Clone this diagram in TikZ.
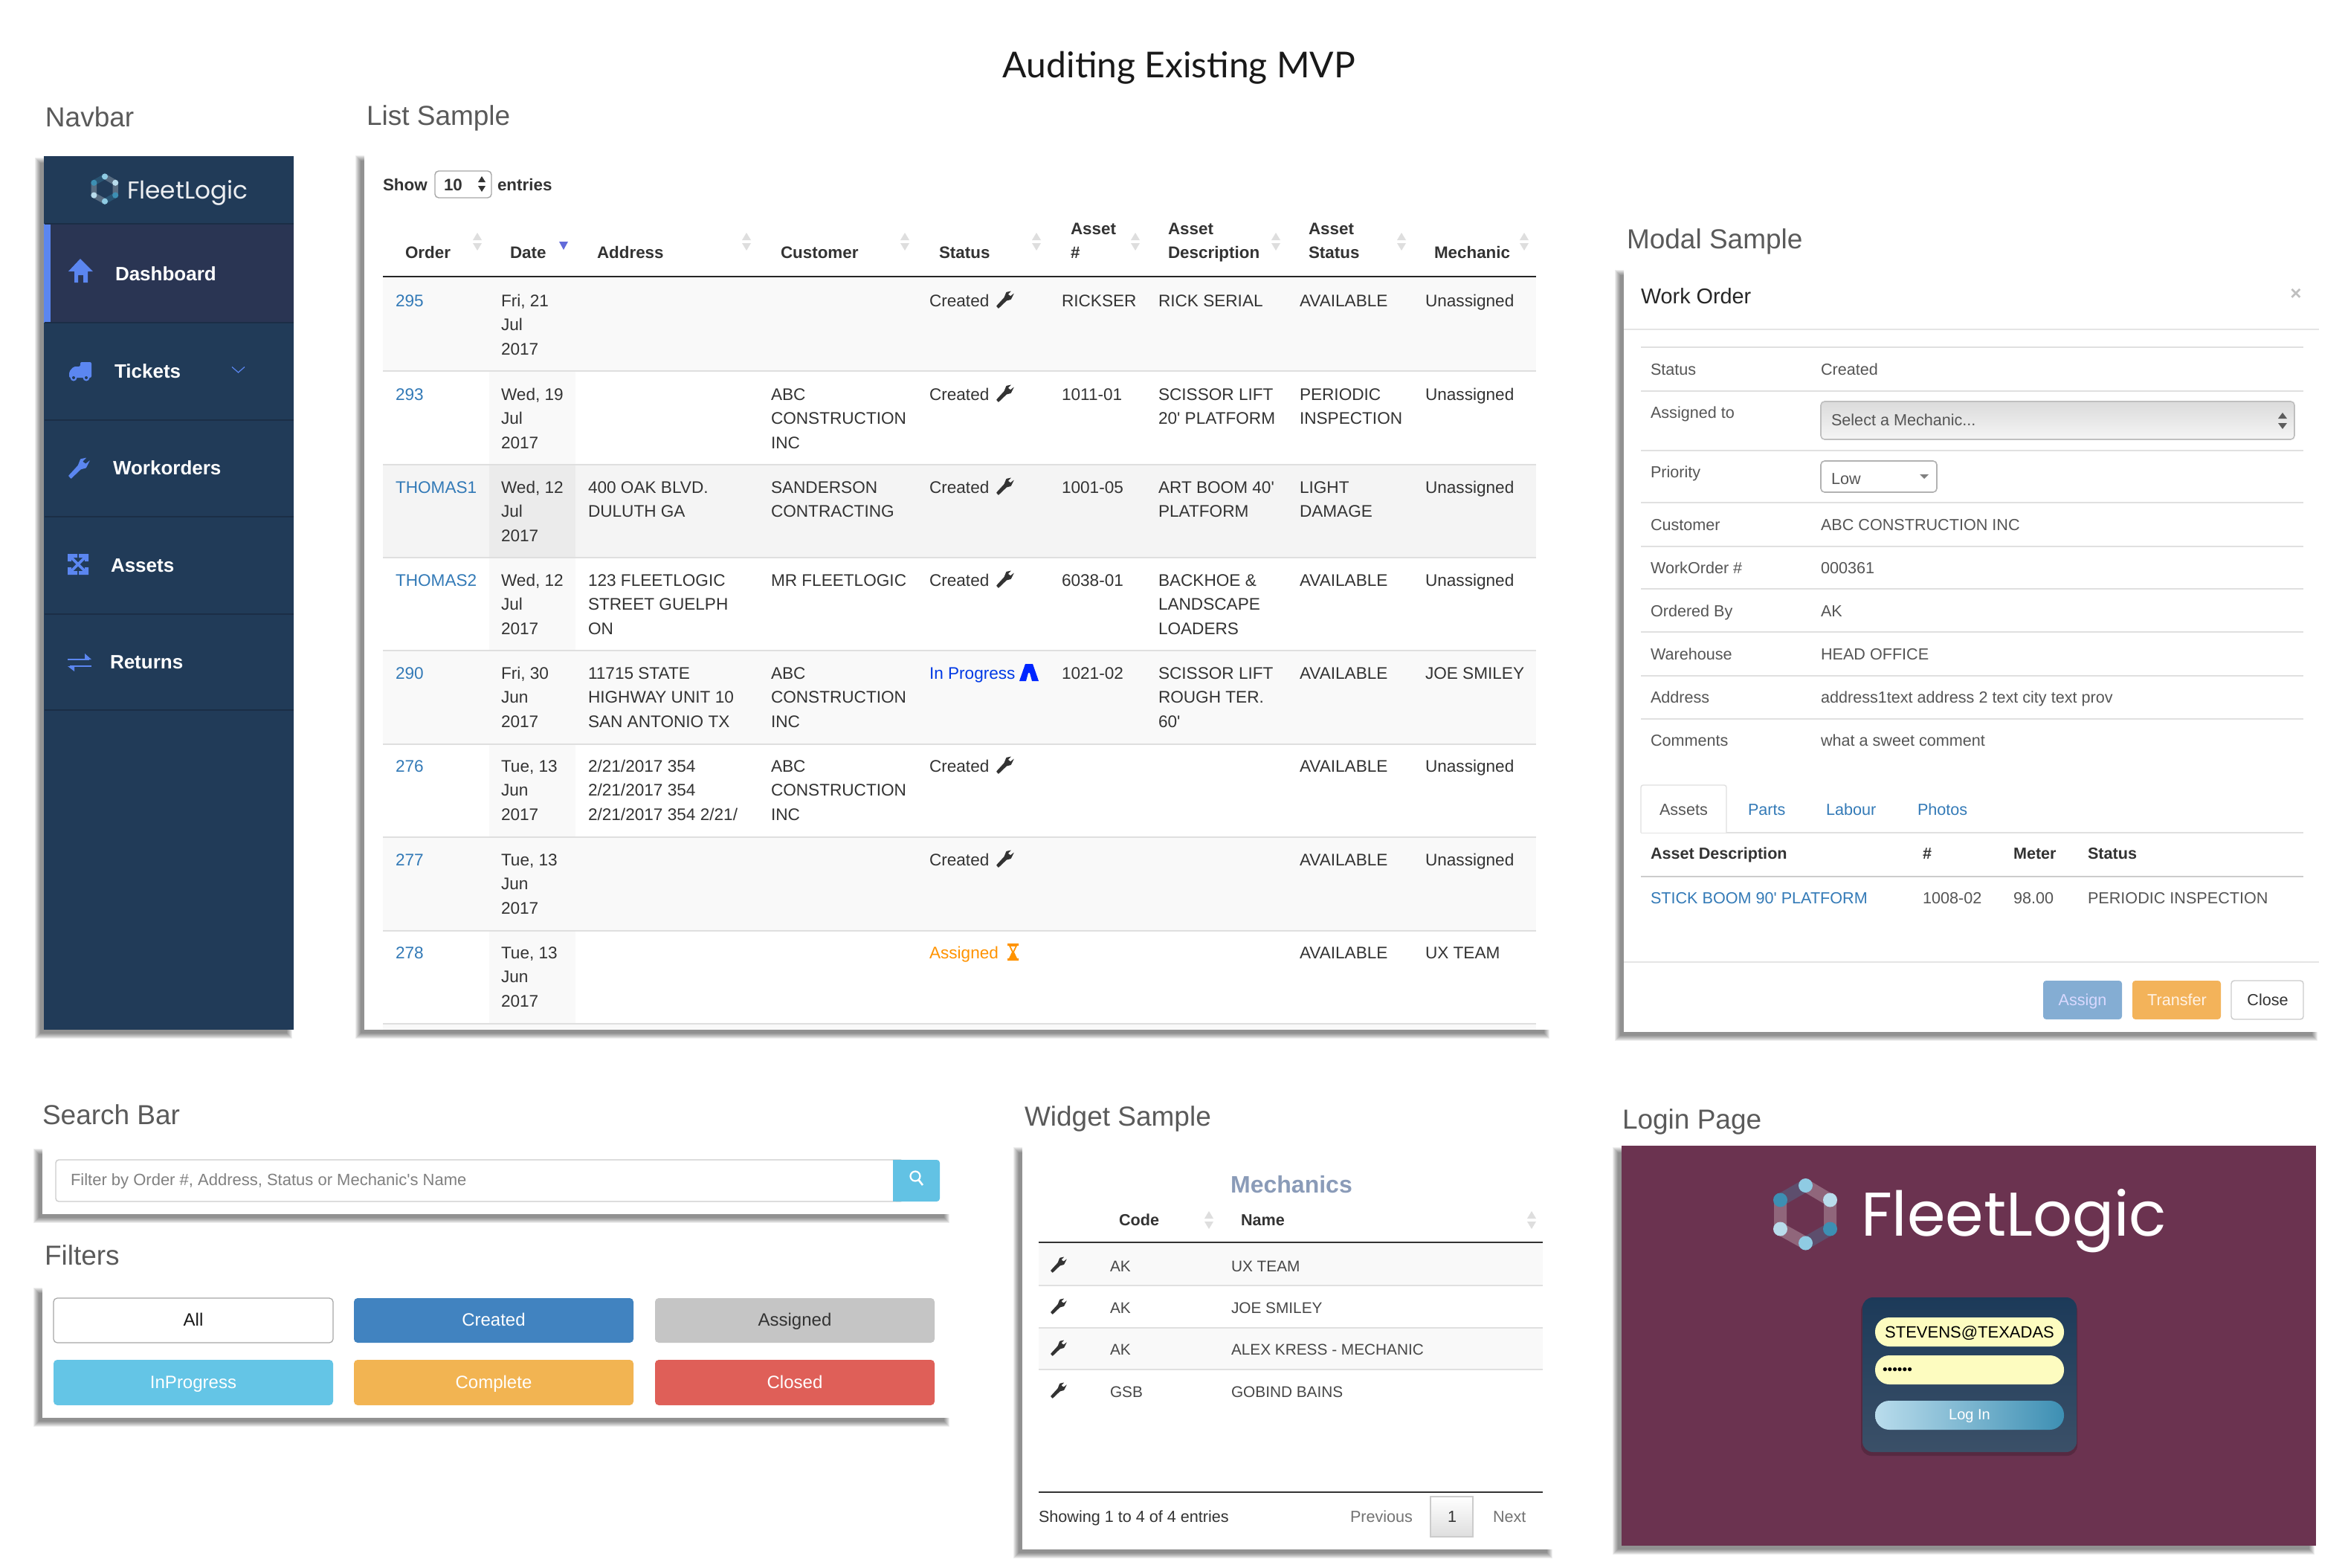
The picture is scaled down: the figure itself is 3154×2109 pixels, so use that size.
\documentclass[tikz,border=0pt]{standalone}
\usepackage{fontspec}
\setmainfont{Liberation Sans}[Ligatures=TeXOff]
\newfontfamily\titlefont{Lato}
\newfontfamily\logofont{Poppins}
\definecolor{txt}{HTML}{333333}
\definecolor{modaltxt}{HTML}{555555}
\definecolor{head}{HTML}{5A5A5A}
\definecolor{linkc}{HTML}{337AB7}
\definecolor{navbg}{HTML}{213B58}
\definecolor{navact}{HTML}{2A3553}
\definecolor{navline}{HTML}{1B2E46}
\definecolor{navicon}{HTML}{5B86F0}
\definecolor{rowline}{HTML}{DFDFDF}
\definecolor{stripe}{HTML}{F9F9F9}
\definecolor{maroon}{HTML}{6B3350}
\definecolor{hexa}{HTML}{3D8FB3}
\definecolor{hexb}{HTML}{B9DCEC}
\definecolor{hexc}{HTML}{8FCBE3}
\newcounter{nn}
\tikzset{
  txtbase/.style={inner sep=0pt,outer sep=0pt,anchor=base west,text=txt},
  centred/.style={anchor=base},
  tcell/.style={font=\fontsize{11.3}{13}\selectfont},
  thead/.style={font=\fontsize{11.2}{13}\selectfont\bfseries},
  mcell/.style={font=\fontsize{10.8}{13}\selectfont,text=modaltxt},
  mbold/.style={font=\fontsize{10.8}{13}\selectfont\bfseries,text=txt},
  wcell/.style={font=\fontsize{10.4}{13}\selectfont,text=txt!90},
  section/.style={font=\fontsize{18.5}{22}\selectfont,text=head},
  navitem/.style={font=\fontsize{13}{15}\selectfont\bfseries,text=white},
  linkcell/.style={text=linkc},
  hline/.style={draw=rowline,line width=1.25pt},
  filterbtn/.style={rounded corners=2.5pt,line width=.6pt},
  fbt/.style={centred,font=\fontsize{12}{14}\selectfont},
}
\newcommand\lb[4][]{\stepcounter{nn}\node[txtbase,#1] (n\thenn) at (#2,#3) {#4};}
\newcommand\tA[4][]{\lb[tcell,#1]{#2}{#3}{#4}}
\newcommand\tB[5][]{\lb[tcell,#1]{#2}{#3}{#4}\lb[tcell,#1]{#2}{#3+32.5}{#5}}
\newcommand\tC[6][]{\lb[tcell,#1]{#2}{#3}{#4}\lb[tcell,#1]{#2}{#3+32.5}{#5}\lb[tcell,#1]{#2}{#3+65}{#6}}
\newcommand\pshadow[4]{%
  \foreach \d in {7,6,5,4,3,2,1,0}{%
    \fill[black,opacity=.065] (#1-5-\d,#2+9-\d) rectangle (#3-9+\d,#4+5+\d);}}
\newcommand\wrench[4][txt]{%
  \begin{scope}[shift={(#2,#3)},scale=#4]
    \fill[#1,rounded corners=.3pt] (0,.86) -- (.12,1) -- (.58,.56) -- (.82,.5) -- (1,.14) -- (.8,.3) -- (.66,.2) -- (.84,.02) -- (.56,.08) -- (.44,.38) -- cycle;
  \end{scope}}
\newcommand\sortarr[3][black!13]{%
  \fill[#1] (#2-6,#3-2) -- (#2+6,#3-2) -- (#2,#3-12) -- cycle;
  \fill[#1] (#2-6,#3+2) -- (#2+6,#3+2) -- (#2,#3+12) -- cycle;}
\newcommand\hexlogo[3]{%
  \begin{scope}[shift={(#1,#2)},scale=#3]
    \draw[white,opacity=.25,line width={#3*8.5pt}] (0,-38.5) -- (33,-19) (33,-19) -- (33,20) (-34,20) -- (0,39) (-34,-19) -- (-34,20);
    \draw[hexa,opacity=.3,line width={#3*8.5pt}] (0,-38.5) -- (-34,-19) (33,20) -- (0,39);
    \fill[hexc] (0,-38.5) circle [radius=9.5] (0,39) circle [radius=9.5];
    \fill[hexb] (33,-19) circle [radius=9.5] (-34,20) circle [radius=9.5];
    \fill[hexa] (33,20) circle [radius=9.5] (-34,-19) circle [radius=9.5];
  \end{scope}}
\begin{document}
\begin{tikzpicture}[x=.5pt,y=-.5pt]
\useasboundingbox (0,0) rectangle (3154,2109);
\fill[white] (0,0) rectangle (3154,2109);

% ---- titles
\lb[centred,font=\fontsize{24}{30}\selectfont\titlefont,text=black!90]{1586}{104}{Auditing Existing MVP}
\lb[section]{61}{170}{Navbar}
\lb[section]{493}{168}{List Sample}
\lb[section]{2188}{334}{Modal Sample}
\lb[section]{57}{1512}{Search Bar}
\lb[section]{60}{1701}{Filters}
\lb[section]{1378}{1514}{Widget Sample}
\lb[section]{2182}{1518}{Login Page}

% ---- navbar
\pshadow{59}{210}{395}{1385}
\fill[navbg] (59,210) rectangle (395,1385);
\fill[navact] (59,301) rectangle (395,434);
\fill[navicon] (59,301) rectangle (68,434);
\foreach \yy in {301,434,565,695,826,955}{\draw[navline,line width=.6pt] (60,\yy) -- (395,\yy);}
\hexlogo{141}{254}{.43}
\lb[font=\fontsize{16.4}{20}\selectfont\logofont,text=white!92!navbg]{171}{267}{FleetLogic}
\lb[navitem]{155}{377}{Dashboard}
\lb[navitem]{154}{508}{Tickets}
\lb[navitem]{152}{638}{Workorders}
\lb[navitem]{149}{769}{Assets}
\lb[navitem]{148}{899}{Returns}
% home
\fill[navicon] (92,365) -- (108,348) -- (125,365) -- (118,365) -- (118,380) -- (112,380) -- (112,370) -- (105,370) -- (105,380) -- (100,380) -- (100,365) -- cycle;
% truck
\fill[navicon,rounded corners=1pt] (108,487) -- (123,487) -- (123,508) -- (93,508) -- (93,500) -- (99,493) -- (108,493) -- cycle;
\fill[navicon] (99,508) circle [radius=4.5] (116,508) circle [radius=4.5];
\fill[navbg] (99,508) circle [radius=2] (116,508) circle [radius=2];
% wrench
\wrench[navicon]{92}{615}{29}
% assets
\draw[navicon,line width=1.8pt] (95,749) -- (115,769) (115,749) -- (95,769);
\fill[navicon] (91,745) rectangle (104,750) (91,745) rectangle (96,755) (119,745) rectangle (106,750) (119,745) rectangle (114,755) (91,773) rectangle (104,768) (91,773) rectangle (96,763) (119,773) rectangle (106,768) (119,773) rectangle (114,763);
% returns
\draw[navicon,line width=1.3pt] (91,887) -- (120,887) (94,896) -- (123,896);
\fill[navicon] (123,887) -- (114,879) -- (114,887) -- cycle (91,896) -- (100,903) -- (100,896) -- cycle;
% chevron
\draw[navicon,line width=.6pt] (312,493.5) -- (320.5,501) -- (329,493.5);

% ---- list sample
\pshadow{490}{207}{2086}{1385}
\fill[white] (490,207) rectangle (2086,1385);
\lb[thead]{515}{256}{Show}
\draw[black!35,fill=white,rounded corners=2.5pt,line width=.7pt] (585,230) rectangle (661,266);
\lb[thead]{597}{256}{10}
\fill[txt] (643,245) -- (653,245) -- (648,237) -- cycle (643,250) -- (653,250) -- (648,258) -- cycle;
\lb[thead]{669}{256}{entries}

\lb[thead]{545}{347}{Order}
\lb[thead]{686}{347}{Date}
\lb[thead]{803}{347}{Address}
\lb[thead]{1050}{347}{Customer}
\lb[thead]{1263}{347}{Status}
\lb[thead]{1440}{315}{Asset}
\lb[thead]{1440}{347}{\#}
\lb[thead]{1571}{315}{Asset}
\lb[thead]{1571}{347}{Description}
\lb[thead]{1760}{315}{Asset}
\lb[thead]{1760}{347}{Status}
\lb[thead]{1929}{347}{Mechanic}
\sortarr{642}{325}
\sortarr{1004}{325}
\sortarr{1217}{325}
\sortarr{1394}{325}
\sortarr{1527}{325}
\sortarr{1716}{325}
\sortarr{1885}{325}
\sortarr{2050}{325}
\fill[navicon!80!violet] (752,325) -- (764,325) -- (758,336) -- cycle;

% row backgrounds
\fill[stripe] (515,373) rectangle (2066,499);
\fill[stripe] (658,499) rectangle (774,625);
\fill[black!4.5] (515,625) rectangle (2066,750);
\fill[black!8] (658,625) rectangle (774,750);
\fill[stripe] (658,750) rectangle (774,875);
\fill[stripe] (515,875) rectangle (2066,1001);
\fill[stripe] (658,1001) rectangle (774,1126);
\fill[stripe] (515,1126) rectangle (2066,1252);
\fill[stripe] (658,1252) rectangle (774,1377);
\fill[stripe] (515,1377) rectangle (2066,1385);
\foreach \yy in {499,625,750,875,1001,1126,1252,1377}{\draw[hline] (515,\yy) -- (2066,\yy);}
\draw[black!85,line width=1.3pt] (515,372) -- (2066,372);

% rows
\tA[linkcell]{532}{412}{295}
\tC{674}{412}{Fri, 21}{Jul}{2017}
\tA{1250}{412}{Created}\wrench{1340}{391}{24}
\tA{1428}{412}{RICKSER}\tA{1558}{412}{RICK SERIAL}\tA{1748}{412}{AVAILABLE}\tA{1917}{412}{Unassigned}

\tA[linkcell]{532}{538}{293}
\tC{674}{538}{Wed, 19}{Jul}{2017}
\tC{1037}{538}{ABC}{CONSTRUCTION}{INC}
\tA{1250}{538}{Created}\wrench{1340}{517}{24}
\tA{1428}{538}{1011-01}\tB{1558}{538}{SCISSOR LIFT}{20' PLATFORM}\tB{1748}{538}{PERIODIC}{INSPECTION}\tA{1917}{538}{Unassigned}

\tA[linkcell]{532}{663}{THOMAS1}
\tC{674}{663}{Wed, 12}{Jul}{2017}
\tB{791}{663}{400 OAK BLVD.}{DULUTH GA}
\tB{1037}{663}{SANDERSON}{CONTRACTING}
\tA{1250}{663}{Created}\wrench{1340}{642}{24}
\tA{1428}{663}{1001-05}\tB{1558}{663}{ART BOOM 40'}{PLATFORM}\tB{1748}{663}{LIGHT}{DAMAGE}\tA{1917}{663}{Unassigned}

\tA[linkcell]{532}{788}{THOMAS2}
\tC{674}{788}{Wed, 12}{Jul}{2017}
\tC{791}{788}{123 FLEETLOGIC}{STREET GUELPH}{ON}
\tA{1037}{788}{MR FLEETLOGIC}
\tA{1250}{788}{Created}\wrench{1340}{767}{24}
\tA{1428}{788}{6038-01}\tC{1558}{788}{BACKHOE \&}{LANDSCAPE}{LOADERS}\tA{1748}{788}{AVAILABLE}\tA{1917}{788}{Unassigned}

\tA[linkcell]{532}{913}{290}
\tC{674}{913}{Fri, 30}{Jun}{2017}
\tC{791}{913}{11715 STATE}{HIGHWAY UNIT 10}{SAN ANTONIO TX}
\tC{1037}{913}{ABC}{CONSTRUCTION}{INC}
\tA[text=blue!75!cyan!90!black]{1250}{913}{In Progress}
\fill[blue!85!cyan] (1371,916) -- (1379,893) -- (1389,893) -- (1397,916) -- (1388,916) -- (1385,905) -- (1383,905) -- (1380,916) -- cycle;
\tA{1428}{913}{1021-02}\tC{1558}{913}{SCISSOR LIFT}{ROUGH TER.}{60'}\tA{1748}{913}{AVAILABLE}\tA{1917}{913}{JOE SMILEY}

\tA[linkcell]{532}{1038}{276}
\tC{674}{1038}{Tue, 13}{Jun}{2017}
\tC{791}{1038}{2/21/2017 354}{2/21/2017 354}{2/21/2017 354 2/21/}
\tC{1037}{1038}{ABC}{CONSTRUCTION}{INC}
\tA{1250}{1038}{Created}\wrench{1340}{1017}{24}
\tA{1748}{1038}{AVAILABLE}\tA{1917}{1038}{Unassigned}

\tA[linkcell]{532}{1164}{277}
\tC{674}{1164}{Tue, 13}{Jun}{2017}
\tA{1250}{1164}{Created}\wrench{1340}{1143}{24}
\tA{1748}{1164}{AVAILABLE}\tA{1917}{1164}{Unassigned}

\tA[linkcell]{532}{1289}{278}
\tC{674}{1289}{Tue, 13}{Jun}{2017}
\tA[text=orange!85!yellow]{1250}{1289}{Assigned}
\fill[orange!85!yellow] (1355,1269) rectangle (1370,1272) (1355,1289) rectangle (1370,1292);
\fill[orange!85!yellow] (1357,1272) -- (1368,1272) -- (1364,1280.5) -- (1368,1289) -- (1357,1289) -- (1361,1280.5) -- cycle;
\fill[white] (1359.5,1273) -- (1365.5,1273) -- (1362.5,1279) -- cycle;
\tA{1748}{1289}{AVAILABLE}\tA{1917}{1289}{UX TEAM}

% ---- modal
\pshadow{2184}{361}{3119}{1388}
\fill[white] (2184,361) rectangle (3119,1388);
\lb[font=\fontsize{14.4}{17}\selectfont,text=black!85]{2207}{408}{Work Order}
\lb[centred,font=\fontsize{13}{15}\selectfont\bfseries,text=black!25]{3088}{403}{×}
\draw[black!10,line width=.7pt] (2184,443) -- (3119,443);
\foreach \yy in {467,526,606,676,735,792,850,909,967}{\draw[black!12,line width=.7pt] (2207,\yy) -- (3098,\yy);}
\lb[mcell]{2220}{504}{Status}\lb[mcell]{2449}{504}{Created}
\lb[mcell]{2220}{562}{Assigned to}
\lb[mcell]{2220}{642}{Priority}
\lb[mcell]{2220}{713}{Customer}\lb[mcell]{2449}{713}{ABC CONSTRUCTION INC}
\lb[mcell]{2220}{771}{WorkOrder \#}\lb[mcell]{2449}{771}{000361}
\lb[mcell]{2220}{829}{Ordered By}\lb[mcell]{2449}{829}{AK}
\lb[mcell]{2220}{887}{Warehouse}\lb[mcell]{2449}{887}{HEAD OFFICE}
\lb[mcell]{2220}{945}{Address}\lb[mcell]{2449}{945}{address1text address 2 text city text prov}
\lb[mcell]{2220}{1003}{Comments}\lb[mcell]{2449}{1003}{what a sweet comment}
\draw[black!25,top color=black!14,bottom color=black!4,rounded corners=2.5pt,line width=.8pt] (2449,540) rectangle (3086,591);
\lb[mcell]{2463}{572}{Select a Mechanic...}
\fill[txt!80] (3064,563) -- (3076,563) -- (3070,555) -- cycle (3064,569) -- (3076,569) -- (3070,577) -- cycle;
\draw[black!30,fill=white,rounded corners=2.5pt,line width=.8pt] (2449,620) rectangle (2605,662);
\lb[mcell]{2463}{651}{Low}
\fill[black!50] (2582,638) -- (2594,638) -- (2588,644) -- cycle;
\draw[black!12,line width=.7pt] (2207,1120) -- (3098,1120);
\draw[black!12,fill=white,line width=.7pt,rounded corners=1.5pt] (2207,1120) -- (2207,1056) -- (2322,1056) -- (2322,1120);
\lb[mcell]{2232}{1096}{Assets}
\lb[mcell,linkcell]{2351}{1096}{Parts}
\lb[mcell,linkcell]{2456}{1096}{Labour}
\lb[mcell,linkcell]{2579}{1096}{Photos}
\lb[mbold]{2220}{1155}{Asset Description}
\lb[mbold]{2586}{1155}{\#}
\lb[mbold]{2708}{1155}{Meter}
\lb[mbold]{2808}{1155}{Status}
\draw[black!20,line width=1pt] (2207,1179) -- (3098,1179);
\lb[mcell,linkcell]{2220}{1215}{STICK BOOM 90' PLATFORM}
\lb[mcell]{2586}{1215}{1008-02}
\lb[mcell]{2708}{1215}{98.00}
\lb[mcell]{2808}{1215}{PERIODIC INSPECTION}
\draw[black!10,line width=.7pt] (2184,1294) -- (3119,1294);
\fill[rounded corners=2pt,fill={rgb,255:red,132;green,173;blue,211}] (2748,1319) rectangle (2854,1371);
\fill[rounded corners=2pt,fill={rgb,255:red,243;green,179;blue,90}] (2868,1319) rectangle (2987,1371);
\draw[black!20,fill=white,rounded corners=2pt,line width=.7pt] (3001,1319) rectangle (3098,1371);
\lb[centred,mcell,text=white!85!blue]{2801}{1352}{Assign}
\lb[centred,mcell,text=white!90!orange]{2928}{1352}{Transfer}
\lb[centred,mcell,text=txt]{3050}{1352}{Close}

% ---- search bar
\pshadow{57}{1543}{1279}{1633}
\fill[white] (57,1543) rectangle (1279,1633);
\draw[black!20,fill=white,rounded corners=2pt,line width=.7pt] (75,1560) rectangle (1215,1616);
\fill[fill={rgb,255:red,98;green,194;blue,228},rounded corners=2pt] (1201,1560) rectangle (1264,1616);
\fill[fill={rgb,255:red,98;green,194;blue,228}] (1201,1560) rectangle (1210,1616);
\lb[font=\fontsize{11}{13}\selectfont,text=black!50]{95}{1594}{Filter by Order \#, Address, Status or Mechanic's Name}
\draw[white,line width=1.1pt] (1231,1582) circle [radius=6.5];
\draw[white,line width=1.3pt] (1235.5,1587) -- (1241,1594);

% ---- filters
\pshadow{57}{1730}{1279}{1907}
\fill[white] (57,1730) rectangle (1279,1907);
\draw[filterbtn,draw=black!35,fill=white] (72,1746) rectangle (448,1806);
\fill[filterbtn,fill={rgb,255:red,65;green,131;blue,192}] (476,1746) rectangle (852,1806);
\fill[filterbtn,fill={rgb,255:red,197;green,197;blue,197}] (881,1746) rectangle (1257,1806);
\fill[filterbtn,fill={rgb,255:red,100;green,197;blue,230}] (72,1829) rectangle (448,1890);
\fill[filterbtn,fill={rgb,255:red,242;green,180;blue,82}] (476,1829) rectangle (852,1890);
\fill[filterbtn,fill={rgb,255:red,223;green,95;blue,88}] (881,1829) rectangle (1257,1890);
\lb[fbt,text=black!90]{260}{1783}{All}
\lb[fbt,text=white]{664}{1783}{Created}
\lb[fbt,text=txt]{1069}{1783}{Assigned}
\lb[fbt,text=white]{260}{1867}{InProgress}
\lb[fbt,text=white]{664}{1867}{Complete}
\lb[fbt,text=white]{1069}{1867}{Closed}

% ---- widget
\pshadow{1375}{1541}{2090}{2084}
\fill[white] (1375,1541) rectangle (2090,2084);
\lb[centred,font=\fontsize{16}{18}\selectfont\bfseries,text={rgb,255:red,138;green,155;blue,184}]{1737}{1604}{Mechanics}
\lb[mbold]{1505}{1648}{Code}
\lb[mbold]{1669}{1648}{Name}
\sortarr{1626}{1641}
\sortarr{2060}{1641}
\fill[stripe] (1397,1671) rectangle (2075,1729);
\fill[stripe] (1397,1786) rectangle (2075,1842);
\foreach \yy in {1729,1786,1842}{\draw[black!12,line width=.7pt] (1397,\yy) -- (2075,\yy);}
\draw[black!80,line width=1pt] (1397,1671) -- (2075,1671);
\draw[black!80,line width=1pt] (1397,2007) -- (2075,2007);
\wrench{1413}{1690}{22}\lb[wcell]{1493}{1710}{AK}\lb[wcell]{1656}{1710}{UX TEAM}
\wrench{1413}{1746}{22}\lb[wcell]{1493}{1766}{AK}\lb[wcell]{1656}{1766}{JOE SMILEY}
\wrench{1413}{1802}{22}\lb[wcell]{1493}{1822}{AK}\lb[wcell]{1656}{1822}{ALEX KRESS - MECHANIC}
\wrench{1413}{1859}{22}\lb[wcell]{1493}{1879}{GSB}\lb[wcell]{1656}{1879}{GOBIND BAINS}
\lb[font=\fontsize{10.8}{13}\selectfont]{1397}{2047}{Showing 1 to 4 of 4 entries}
\lb[font=\fontsize{10.8}{13}\selectfont,text=black!55]{1816}{2047}{Previous}
\draw[black!20,top color=white,bottom color=black!13,line width=.7pt] (1924,2013) rectangle (1981,2067);
\lb[centred,font=\fontsize{10.8}{13}\selectfont]{1953}{2047}{1}
\lb[font=\fontsize{10.8}{13}\selectfont,text=black!55]{2008}{2047}{Next}

% ---- login
\pshadow{2181}{1541}{3115}{2079}
\fill[maroon] (2181,1541) rectangle (3115,2079);
\hexlogo{2428.5}{1633}{1}
\lb[font=\fontsize{41.5}{50}\selectfont\logofont,text=white]{2503}{1662}{FleetLogic}
\fill[black,opacity=.18,rounded corners=7pt] (2503,1749) rectangle (2794,1958);
\shade[top color={rgb,255:red,28;green,58;blue,89},bottom color={rgb,255:red,59;green,80;blue,104},rounded corners=7pt] (2505,1745) rectangle (2793,1953);
\fill[fill={rgb,255:red,253;green,252;blue,192},rounded corners=9.5pt] (2522,1772) rectangle (2776,1811);
\fill[fill={rgb,255:red,253;green,252;blue,192},rounded corners=9.5pt] (2522,1823) rectangle (2776,1862);
\lb[centred,font=\fontsize{11}{13}\selectfont,text=black]{2649}{1799}{STEVENS@TEXADAS}
\lb[font=\fontsize{9.5}{11}\selectfont,text=black]{2532}{1848}{••••••}
\shade[left color=hexb,right color=hexa,rounded corners=9.5pt] (2522,1884) rectangle (2776,1923);
\lb[centred,font=\fontsize{10}{12}\selectfont,text=white]{2649}{1909}{Log In}
\end{tikzpicture}
\end{document}
